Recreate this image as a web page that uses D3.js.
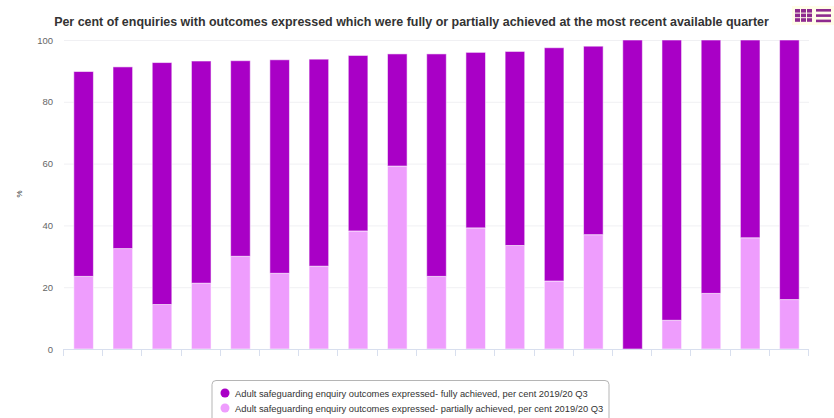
<!DOCTYPE html>
<html><head><meta charset="utf-8">
<script src="https://cdn.jsdelivr.net/npm/d3@7"></script>
<style>html,body{margin:0;padding:0;background:#fff;overflow:hidden}svg{display:block}text{font-family:"Liberation Sans",Arial,sans-serif}</style>
</head><body><svg id="c" width="834" height="418"></svg>
<script>
const categories=["A","B","C","D","E","F","G","H","I","J","K","L","M","N","O","P","Q","R","S"];
const fullyAchieved=[66.3,58.8,78.3,71.9,63.3,69.1,67,56.8,36.3,72,56.8,62.8,75.5,61,100,90.7,82,64,84];
const partiallyAchieved=[23.5,32.5,14.4,21.3,30,24.5,26.8,38.2,59.2,23.5,39.2,33.5,22,37,0,9.3,18,36,16];
const seriesNames=["Adult safeguarding enquiry outcomes expressed- fully achieved, per cent 2019/20 Q3","Adult safeguarding enquiry outcomes expressed- partially achieved, per cent 2019/20 Q3"];
const yTicks=[0,20,40,60,80,100];
const title="Per cent of enquiries with outcomes expressed which were fully or partially achieved at the most recent available quarter";
const colors=["#a900c6","#ee9dfd"];

const svg=d3.select("#c");
const L=64,R=809,T=40,B=349;
const x=d3.scaleBand().domain(categories).range([L,R]).paddingInner(0.5).paddingOuter(0.25);
const y=d3.scaleLinear().domain([0,100]).range([B,T]);

svg.append("text").attr("x",411.5).attr("y",26).attr("text-anchor","middle").attr("font-size",12.45).attr("font-weight","bold").attr("fill","#333").text(title);

svg.append("g").selectAll("line").data(yTicks.slice(1)).join("line")
 .attr("x1",L).attr("x2",R).attr("y1",d=>y(d)+.5).attr("y2",d=>y(d)+.5).attr("stroke","#f0f0f3");

const yAxis=svg.append("g").attr("transform",`translate(${L},0)`).call(d3.axisLeft(y).tickValues(yTicks).tickSize(0).tickPadding(11));
yAxis.select(".domain").remove();
yAxis.selectAll("text").attr("font-size",9.5).attr("fill","#666").style("font-family",'"Liberation Sans",Arial,sans-serif');

svg.append("text").attr("transform","translate(22,194) rotate(-90)").attr("text-anchor","middle").attr("font-size",8).attr("fill","#333").text("%");

const rows=categories.map((c,i)=>({c,fully:fullyAchieved[i],partial:partiallyAchieved[i]}));
const stack=d3.stack().keys(["partial","fully"])(rows);
const col={partial:colors[1],fully:colors[0]};
svg.append("g").selectAll("g").data(stack).join("g").attr("fill",d=>col[d.key]).selectAll("rect")
 .data(d=>d.map(v=>({v,c:v.data.c}))).join("rect")
 .attr("x",d=>x(d.c)).attr("width",x.bandwidth())
 .attr("y",d=>y(d.v[1])).attr("height",d=>Math.max(0,y(d.v[0])-y(d.v[1])))
 .attr("stroke","#fff").attr("stroke-opacity",.55).attr("stroke-width",1);

const step=x.step();
const xa=svg.append("g");
xa.append("line").attr("x1",L).attr("x2",R).attr("y1",B+.5).attr("y2",B+.5).attr("stroke","#d8dfee");
xa.selectAll(".t").data(categories.concat(["end"])).join("line").attr("class","t")
 .attr("x1",(d,i)=>Math.round(L+i*step)-.5).attr("x2",(d,i)=>Math.round(L+i*step)-.5)
 .attr("y1",B).attr("y2",B+7).attr("stroke","#d8dfee");

svg.append("rect").attr("x",212).attr("y",380.5).attr("width",397).attr("height",50).attr("rx",4)
 .attr("fill","#fff").attr("stroke","#b5b5b5");
const lg=svg.append("g").selectAll("g").data(seriesNames).join("g").attr("transform",(d,i)=>`translate(0,${393+i*15})`);
lg.append("circle").attr("cx",225).attr("cy",0).attr("r",4.5).attr("fill",(d,i)=>colors[i]);
lg.append("text").attr("x",235).attr("y",3.5).attr("font-size",9.35).attr("fill","#333").text(d=>d);

const ic=svg.append("g");
ic.append("rect").attr("x",792).attr("y",6).attr("width",42).attr("height",19).attr("fill","#fffde8");
const ico="#8e2a8e";
d3.range(3).forEach(r=>d3.range(3).forEach(c=>ic.append("rect").attr("x",795+c*6).attr("y",9+r*4.6).attr("width",5).attr("height",3.6).attr("fill",ico)));
d3.range(3).forEach(r=>ic.append("rect").attr("x",816).attr("y",9+r*5.3).attr("width",15).attr("height",2.6).attr("fill",ico));
</script></body></html>
